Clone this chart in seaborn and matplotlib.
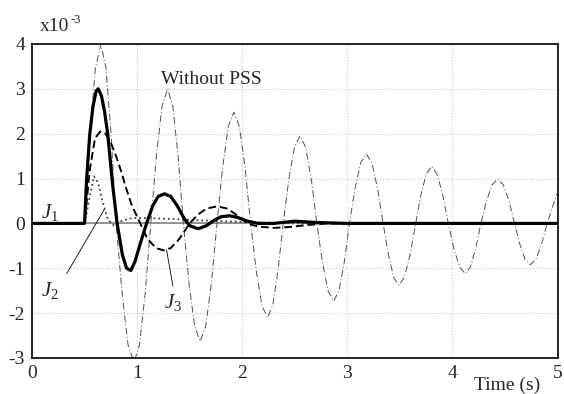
import numpy as np
import pandas as pd
import seaborn as sns
import matplotlib
matplotlib.use("Agg")
import matplotlib.pyplot as plt

# valeurs (x10^-3)
t_nopss = [0, 0.5, 0.552, 0.603, 0.655, 0.703, 0.752, 0.80, 0.857, 0.913, 0.97,
           1.023, 1.077, 1.13, 1.183, 1.237, 1.29, 1.34, 1.39, 1.44, 1.493, 1.547, 1.60,
           1.653, 1.707, 1.76, 1.813, 1.867, 1.92, 1.973, 2.027, 2.08, 2.133, 2.187, 2.24,
           2.29, 2.34, 2.39, 2.443, 2.497, 2.55, 2.603, 2.657, 2.71, 2.763, 2.817, 2.87,
           2.92, 2.97, 3.02, 3.073, 3.127, 3.18, 3.233, 3.287, 3.34, 3.39, 3.44, 3.49,
           3.543, 3.597, 3.65, 3.70, 3.75, 3.80, 3.853, 3.907, 3.96, 4.013, 4.067, 4.12,
           4.17, 4.22, 4.27, 4.323, 4.377, 4.43, 4.483, 4.537, 4.59, 4.64, 4.69, 4.74,
           4.793, 4.847, 4.90, 4.95, 5.0]
y_nopss = [0, 0, 2.0, 3.46, 4.0, 3.48, 2.0, 0, -1.55, -2.7, -3.1,
           -2.7, -1.55, 0, 1.5, 2.61, 3.0, 2.61, 1.5, 0, -1.32, -2.29, -2.63,
           -2.29, -1.32, 0, 1.24, 2.16, 2.48, 2.16, 1.24, 0, -1.05, -1.83, -2.1,
           -1.83, -1.05, 0, 0.98, 1.70, 1.95, 1.70, 0.98, 0, -0.87, -1.51, -1.73,
           -1.51, -0.87, 0, 0.78, 1.35, 1.55, 1.35, 0.78, 0, -0.69, -1.2, -1.38,
           -1.2, -0.69, 0, 0.64, 1.1, 1.27, 1.1, 0.64, 0, -0.56, -0.97, -1.12,
           -0.97, -0.56, 0, 0.5, 0.86, 0.99, 0.86, 0.5, 0, -0.46, -0.8, -0.92,
           -0.8, -0.46, 0, 0.36, 0.68]

t_j1 = [0, 0.5, 0.52, 0.55, 0.58, 0.61, 0.63, 0.66, 0.69, 0.72, 0.77, 0.81, 0.86, 0.9,
        0.94, 0.98, 1.03, 1.09, 1.15, 1.2, 1.26, 1.32, 1.38, 1.45, 1.5, 1.58, 1.66,
        1.74, 1.8, 1.88, 1.96, 2.05, 2.15, 2.3, 2.5, 2.7, 3.0, 5.0]
y_j1 = [0, 0, 1.0, 2.0, 2.6, 2.95, 3.0, 2.85, 2.5, 2.0, 0.8, 0, -0.7, -1.0,
        -1.05, -0.85, -0.45, 0, 0.4, 0.6, 0.66, 0.6, 0.4, 0.1, -0.05, -0.12, -0.05,
        0.08, 0.15, 0.17, 0.13, 0.05, 0, 0, 0.05, 0.02, 0, 0]

t_j2 = [0, 0.5, 0.55, 0.59, 0.63, 0.67, 0.72, 0.78, 0.85, 0.95, 1.1, 1.3, 1.5, 1.8, 2.2, 2.5, 5.0]
y_j2 = [0, 0, 0.6, 1.05, 0.9, 0.5, 0.1, -0.05, 0.05, 0.12, 0.12, 0.1, 0.08, 0.05, 0.02, 0, 0]

t_j3 = [0, 0.5, 0.55, 0.6, 0.65, 0.7, 0.75, 0.8, 0.85, 0.9, 0.95, 1.03, 1.1, 1.18, 1.25,
        1.32, 1.4, 1.5, 1.58, 1.66, 1.76, 1.86, 1.95, 2.05, 2.15, 2.3, 2.45, 2.6, 2.8, 5.0]
y_j3 = [0, 0, 1.2, 1.9, 2.05, 2.0, 1.8, 1.5, 1.15, 0.75, 0.4, 0, -0.35, -0.55, -0.6,
        -0.55, -0.35, 0, 0.2, 0.33, 0.38, 0.33, 0.18, 0, -0.07, -0.1, -0.08, -0.04, 0, 0]

sns.set_style("whitegrid", {"grid.linestyle": ":", "grid.color": "#c4c4c4",
                            "axes.edgecolor": "black"})
plt.rcParams['font.family'] = ['Liberation Serif', 'DejaVu Serif']
plt.rcParams['mathtext.fontset'] = 'custom'
plt.rcParams['mathtext.it'] = 'Liberation Serif:italic'
plt.rcParams['mathtext.rm'] = 'Liberation Serif'
plt.rcParams['axes.unicode_minus'] = False
plt.rcParams['grid.linewidth'] = 0.8

fig = plt.figure(figsize=(5.64, 3.94), dpi=100)
ax = fig.add_axes([0.0567, 0.0914, 0.932, 0.797])

ax.axhline(0, color="#8a8a8a", lw=1.3, zorder=1)
sns.lineplot(x=t_nopss, y=y_nopss, ax=ax, color="#505050", lw=0.7,
             linestyle=(0, (7, 2.5, 1, 2.5)), zorder=2)
sns.lineplot(x=t_j2, y=y_j2, ax=ax, color="#404040", lw=1.3, linestyle=":", zorder=3)
sns.lineplot(x=t_j3, y=y_j3, ax=ax, color="black", lw=1.4, linestyle=(0, (4, 2)), zorder=4)
sns.lineplot(x=t_j1, y=y_j1, ax=ax, color="black", lw=2.3, zorder=5)

ax.set_xlim(0, 5)
ax.set_ylim(-3, 4)
ax.set_xticks([0, 1, 2, 3, 4, 5])
ax.set_yticks([-3, -2, -1, 0, 1, 2, 3, 4])
ax.tick_params(length=0, labelsize=14, pad=5)
for s in ax.spines.values():
    s.set_linewidth(1.2)
    s.set_color("black")

ax.text(1.71, 3.2, "Without PSS", fontsize=14, ha="center", va="center")
ax.text(0.17, 0.25, "$J_1$", fontsize=15, ha="center", va="center")
ax.text(0.17, -1.5, "$J_2$", fontsize=15, ha="center", va="center")
ax.text(1.34, -1.76, "$J_3$", fontsize=15, ha="center", va="center")
ax.plot([0.33, 0.69], [-1.12, 0.32], color="black", lw=0.6)
ax.plot([1.34, 1.28], [-1.39, -0.59], color="black", lw=0.6)

# x10^-3 en deux morceaux pour garder le trait d'union
fig.text(40 / 564, 1 - 31 / 394, "x10", fontsize=14, ha="left", va="baseline")
fig.text(71 / 564, 1 - 23 / 394, "-3", fontsize=9, ha="left", va="baseline")
fig.text(507 / 564, 1 - 385 / 394, "Time (s)", fontsize=14, ha="center", va="center")

fig.savefig("out.png", dpi=100)
